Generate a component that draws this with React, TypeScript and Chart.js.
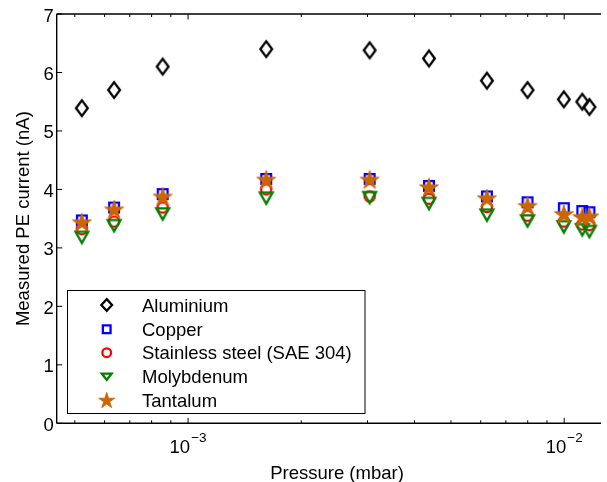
import React, { useEffect, useRef } from 'react';
import { Chart, registerables } from 'chart.js';

Chart.register(...registerables);

// ---- data ----
const pressures = [5.22e-4, 6.36e-4, 8.56e-4, 1.614e-3, 3.04e-3, 4.37e-3, 6.23e-3, 7.99e-3, 9.98e-3, 1.117e-2, 1.167e-2];
const aluminium = [5.39, 5.70, 6.10, 6.40, 6.38, 6.24, 5.86, 5.70, 5.54, 5.50, 5.41];
const copper = [3.47, 3.69, 3.92, 4.18, 4.18, 4.06, 3.88, 3.78, 3.68, 3.63, 3.61];
const stainless = [3.32, 3.45, 3.69, 4.00, 3.88, 3.84, 3.70, 3.55, 3.45, 3.40, 3.39];
const molybdenum = [3.18, 3.38, 3.58, 3.85, 3.86, 3.76, 3.56, 3.46, 3.36, 3.31, 3.28];
const tantalum = [3.44, 3.66, 3.88, 4.17, 4.17, 4.04, 3.85, 3.72, 3.58, 3.53, 3.54];

const seriesNames = ['Aluminium', 'Copper', 'Stainless steel (SAE 304)', 'Molybdenum', 'Tantalum'];
const seriesValues = [aluminium, copper, stainless, molybdenum, tantalum];
const seriesKinds = ['diamond', 'square', 'circle', 'triangleDown', 'star'];
const seriesColors = ['#000000', '#0000ff', '#ff0000', '#008000', '#cc6600'];

const xMin = 4.475e-4;
const xMax = 1.2376e-2;
const yMin = 0;
const yMax = 7;
const yTicks = [0, 1, 2, 3, 4, 5, 6, 7];
const xMajorTicks = [1e-3, 1e-2];
const xMajorExponents = ['\u22123', '\u22122'];
const xMinorTicks = [5e-4, 6e-4, 7e-4, 8e-4, 9e-4, 2e-3, 3e-3, 4e-3, 5e-3, 6e-3, 7e-3, 8e-3, 9e-3];

const xTitle = 'Pressure (mbar)';
const yTitle = 'Measured PE current (nA)';

const FONT = '"Liberation Sans", Arial, Helvetica, sans-serif';

type Sz = { w: number; h: number };
const plotSizes: Record<string, Sz> = {
  diamond: { w: 14, h: 18 },
  square: { w: 12, h: 12 },
  circle: { w: 12.5, h: 12.5 },
  triangleDown: { w: 17, h: 15 },
  star: { w: 20, h: 19 },
};
const legendSizes: Record<string, Sz> = {
  diamond: { w: 13, h: 14 },
  square: { w: 10, h: 10 },
  circle: { w: 11, h: 11 },
  triangleDown: { w: 14, h: 10 },
  star: { w: 17, h: 16 },
};

function paintMarker(ctx: CanvasRenderingContext2D, kind: string, cx: number, cy: number, sz: Sz, color: string) {
  const lw = 2.3;
  ctx.save();
  ctx.strokeStyle = color;
  ctx.fillStyle = color;
  ctx.lineWidth = lw;
  ctx.lineJoin = 'miter';
  ctx.beginPath();
  if (kind === 'diamond') {
    const a = (sz.w - lw) / 2;
    const b = (sz.h - lw) / 2;
    ctx.moveTo(cx, cy - b);
    ctx.lineTo(cx + a, cy);
    ctx.lineTo(cx, cy + b);
    ctx.lineTo(cx - a, cy);
    ctx.closePath();
    ctx.stroke();
  } else if (kind === 'square') {
    const s = sz.w - lw;
    ctx.rect(cx - s / 2, cy - s / 2, s, s);
    ctx.stroke();
  } else if (kind === 'circle') {
    ctx.arc(cx, cy, (sz.w - lw) / 2, 0, Math.PI * 2);
    ctx.stroke();
  } else if (kind === 'triangleDown') {
    const a = (sz.w - lw * 1.8) / 2;
    const b = (sz.h - lw * 1.6) / 2;
    ctx.moveTo(cx - a, cy - b);
    ctx.lineTo(cx + a, cy - b);
    ctx.lineTo(cx, cy + b);
    ctx.closePath();
    ctx.stroke();
  } else if (kind === 'star') {
    const R = sz.w / 2 / Math.sin((72 * Math.PI) / 180) - 0.5;
    const r = R * 0.382;
    const off = (R - R * Math.cos(Math.PI / 5)) / 2;
    for (let i = 0; i < 10; i++) {
      const ang = -Math.PI / 2 + (i * Math.PI) / 5;
      const rad = i % 2 === 0 ? R : r;
      const px = cx + rad * Math.cos(ang);
      const py = cy + off + rad * Math.sin(ang);
      if (i === 0) ctx.moveTo(px, py);
      else ctx.lineTo(px, py);
    }
    ctx.closePath();
    ctx.fill();
    ctx.lineWidth = 0.8;
    ctx.stroke();
  }
  ctx.restore();
}

function makeMarkerCanvas(kind: string, color: string): HTMLCanvasElement {
  const c = document.createElement('canvas');
  c.width = 26;
  c.height = 26;
  const ctx = c.getContext('2d')!;
  paintMarker(ctx, kind, 13, 13, plotSizes[kind], color);
  return c;
}

const matlabPlugin = {
  id: 'matlabAxes',
  beforeDatasetsDraw(chart: any) {
    const { ctx, chartArea } = chart;
    const xs = chart.scales.x;
    const ys = chart.scales.y;
    const { left, right, top, bottom } = chartArea;
    ctx.save();
    ctx.strokeStyle = '#000';
    ctx.lineWidth = 1.4;
    ctx.beginPath();
    ctx.moveTo(left, top);
    ctx.lineTo(right + 2, top);
    ctx.moveTo(left, bottom);
    ctx.lineTo(right + 2, bottom);
    ctx.moveTo(left, top);
    ctx.lineTo(left, bottom);
    ctx.stroke();
    ctx.lineWidth = 1;
    ctx.beginPath();
    for (const v of yTicks) {
      const y = ys.getPixelForValue(v);
      ctx.moveTo(left, y);
      ctx.lineTo(left + 5.5, y);
    }
    for (const v of xMajorTicks) {
      const x = xs.getPixelForValue(v);
      ctx.moveTo(x, bottom);
      ctx.lineTo(x, bottom - 5.5);
      ctx.moveTo(x, top);
      ctx.lineTo(x, top + 5.5);
    }
    for (const v of xMinorTicks) {
      const x = xs.getPixelForValue(v);
      ctx.moveTo(x, bottom);
      ctx.lineTo(x, bottom - 3);
      ctx.moveTo(x, top);
      ctx.lineTo(x, top + 3);
    }
    ctx.stroke();
    ctx.restore();
  },
  afterDraw(chart: any) {
    const { ctx, chartArea } = chart;
    const xs = chart.scales.x;
    const ys = chart.scales.y;
    const { left, top, bottom } = chartArea;
    ctx.save();
    ctx.fillStyle = '#000';
    // y tick labels
    ctx.font = `18.5px ${FONT}`;
    ctx.textAlign = 'right';
    ctx.textBaseline = 'alphabetic';
    for (const v of yTicks) {
      const y = ys.getPixelForValue(v);
      ctx.fillText(String(v), left - 3, y + 7.5);
    }
    // x tick labels with superscript
    xMajorTicks.forEach((v, i) => {
      const x = xs.getPixelForValue(v);
      ctx.font = `18.5px ${FONT}`;
      const baseW = ctx.measureText('10').width;
      ctx.font = `13.5px ${FONT}`;
      const expW = ctx.measureText(xMajorExponents[i]).width;
      const total = baseW + 1 + expW;
      const x0 = x - total / 2;
      ctx.textAlign = 'left';
      ctx.font = `18.5px ${FONT}`;
      ctx.fillText('10', x0, bottom + 30);
      ctx.font = `13.5px ${FONT}`;
      ctx.fillText(xMajorExponents[i], x0 + baseW + 1, bottom + 18.5);
    });
    // axis titles
    ctx.font = `18.5px ${FONT}`;
    ctx.textAlign = 'center';
    ctx.fillText(xTitle, 337, 479);
    ctx.save();
    ctx.translate(28.5, (top + bottom) / 2);
    ctx.rotate(-Math.PI / 2);
    ctx.fillText(yTitle, 0, 0);
    ctx.restore();

    // legend
    const lx = 67.5, ly = 290.5, lw = 297.5, lh = 123;
    ctx.fillStyle = '#fff';
    ctx.fillRect(lx, ly, lw, lh);
    ctx.strokeStyle = '#000';
    ctx.lineWidth = 1;
    ctx.strokeRect(lx, ly, lw, lh);
    const rows = [305, 329.3, 352.7, 376.7, 400];
    seriesNames.forEach((name, i) => {
      paintMarker(ctx, seriesKinds[i], 106.7, rows[i], legendSizes[seriesKinds[i]], seriesColors[i]);
      ctx.fillStyle = '#000';
      ctx.font = `18.5px ${FONT}`;
      ctx.textAlign = 'left';
      ctx.fillText(name, 142, rows[i] + 6.7);
    });
    ctx.restore();
  },
};

export default function App() {
  const canvasRef = useRef<HTMLCanvasElement | null>(null);

  useEffect(() => {
    if (!canvasRef.current) return;
    const datasets = seriesNames.map((name, i) => ({
      label: name,
      data: pressures.map((p, j) => ({ x: p, y: seriesValues[i][j] })),
      pointStyle: makeMarkerCanvas(seriesKinds[i], seriesColors[i]) as any,
      pointRadius: 7,
      showLine: false,
      order: seriesNames.length - i,
    }));
    const chart = new Chart(canvasRef.current, {
      type: 'scatter',
      data: { datasets },
      options: {
        animation: false,
        responsive: false,
        events: [],
        layout: { padding: { left: 56.7, right: 0, top: 14, bottom: 58.7 } },
        plugins: { legend: { display: false }, tooltip: { enabled: false } },
        scales: {
          x: { type: 'logarithmic', min: xMin, max: xMax, display: false },
          y: { type: 'linear', min: yMin, max: yMax, display: false },
        },
      },
      plugins: [matlabPlugin],
    });
    return () => chart.destroy();
  }, []);

  return (
    <div style={{ position: 'absolute', left: 0, top: 0, width: 607, height: 482, background: '#fff' }}>
      <canvas ref={canvasRef} width={607} height={482} style={{ display: 'block' }} />
    </div>
  );
}
